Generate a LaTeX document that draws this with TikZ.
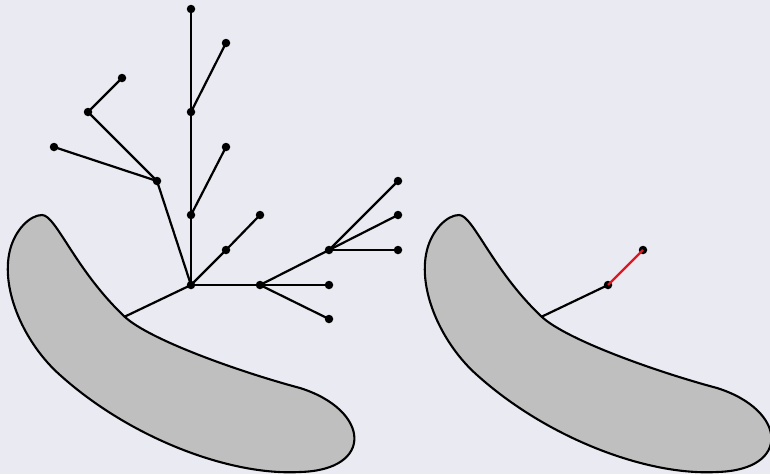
\documentclass[tikz,border=0pt]{standalone}
\definecolor{bgcol}{HTML}{EAEAF2}
\definecolor{blobfill}{HTML}{BFBFBF}
\definecolor{redline}{HTML}{E8141C}
\tikzset{
  dot/.style={circle,fill=black,inner sep=0pt,minimum size=8.5pt},
  edge/.style={line width=2.2pt,black},
  rededge/.style={line width=2.4pt,redline},
  blob/.style={fill=blobfill,draw=black,line width=2.1pt}
}
\begin{document}
\begin{tikzpicture}[x=1pt,y=-1pt]
\fill[bgcol] (0,0) rectangle (770,474);
\useasboundingbox (0,0) rectangle (770,474);
\foreach \dx in {0,417}{
\begin{scope}[xshift=\dx pt]
\draw[blob] (42,215) .. controls (56,215) and (75,270) .. (125,317)
  .. controls (150,340) and (240,372) .. (300,388)
  .. controls (370,410) and (375,470) .. (300,472)
  .. controls (230,476) and (130,438) .. (60,375)
  .. controls (25,344) and (0,290) .. (10,250)
  .. controls (15,230) and (30,215) .. (42,215) -- cycle;
\end{scope}}
\coordinate (att) at (124,317);
% left tree nodes
\node[dot] (r) at (191,285) {};
\node[dot] (v1) at (191,215) {};
\node[dot] (v2) at (191,112) {};
\node[dot] (v3) at (191,9) {};
\node[dot] (a1) at (226,147) {};
\node[dot] (a2) at (226,43) {};
\node[dot] (d1) at (226,250) {};
\node[dot] (d2) at (260,215) {};
\node[dot] (h1) at (260,285) {};
\node[dot] (h2) at (329,285) {};
\node[dot] (h3) at (329,319) {};
\node[dot] (h4) at (329,250) {};
\node[dot] (k1) at (398,181) {};
\node[dot] (k2) at (398,215) {};
\node[dot] (k3) at (398,250) {};
\node[dot] (l1) at (157,181) {};
\node[dot] (l2) at (54,147) {};
\node[dot] (l3) at (88,112) {};
\node[dot] (l4) at (122,78) {};
\draw[edge] (att) -- (r.center);
\draw[edge] (r.center) -- (v1.center) -- (v2.center) -- (v3.center);
\draw[edge] (v1.center) -- (a1.center);
\draw[edge] (v2.center) -- (a2.center);
\draw[edge] (r.center) -- (d1.center) -- (d2.center);
\draw[edge] (r.center) -- (h1.center) -- (h2.center);
\draw[edge] (h1.center) -- (h3.center);
\draw[edge] (h1.center) -- (h4.center);
\draw[edge] (h4.center) -- (k1.center);
\draw[edge] (h4.center) -- (k2.center);
\draw[edge] (h4.center) -- (k3.center);
\draw[edge] (r.center) -- (l1.center) -- (l2.center);
\draw[edge] (l1.center) -- (l3.center) -- (l4.center);
% right tree
\coordinate (att2) at (541,317);
\node[dot] (r2) at (608,285) {};
\node[dot] (t2) at (643,250) {};
\draw[edge] (att2) -- (r2.center);
\draw[rededge] (r2.center) -- (t2.center);
\end{tikzpicture}
\end{document}
